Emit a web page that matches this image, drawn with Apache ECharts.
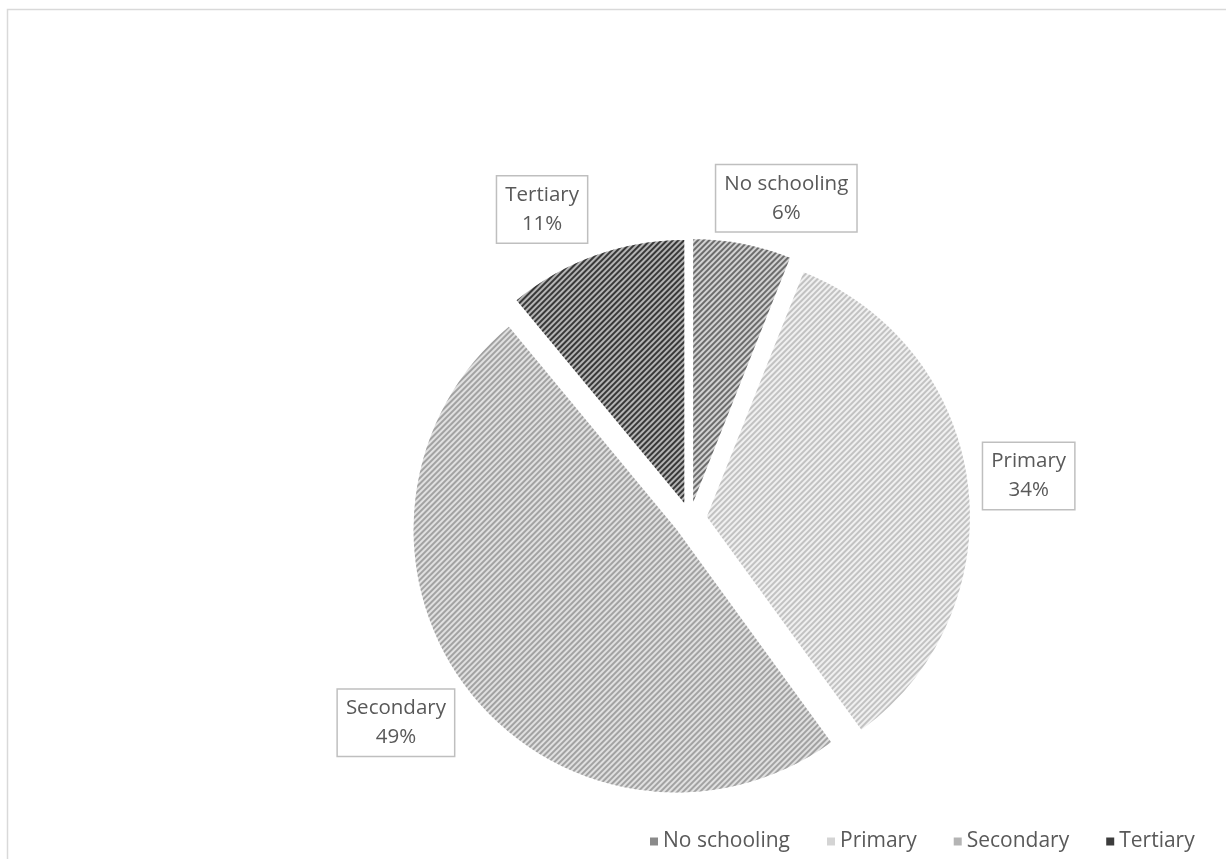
<!DOCTYPE html>
<html>
<head>
<meta charset="utf-8">
<script src="https://cdn.jsdelivr.net/npm/echarts@6/dist/echarts.min.js"></script>
<style>
html,body{margin:0;padding:0;background:#fff;}
#c{width:1226px;height:859px;}
</style>
</head>
<body>
<div id="c"></div>
<script>
// Data
const categories = ['No schooling', 'Primary', 'Secondary', 'Tertiary'];
const shares = [6, 34, 49, 11];

// Styling (not data)
const baseColors = ['#d2d2d2', '#f0f0f0', '#e0e0e0', '#b4b4b4'];
const stripeColors = ['#6c6c6c', '#c2c2c2', '#a2a2a2', '#383838'];
const legendColors = ['#8a8a8a', '#d4d4d4', '#b4b4b4', '#3c3c3c'];
// label nudges relative to ECharts' default outside placement
const labelShift = [[6, -31], [11, -6], [-26, 23], [-13, -32]];

const chart = echarts.init(document.getElementById('c'), null, {renderer: 'canvas'});
const FONT = '"Open Sans", sans-serif';

const data = categories.map((name, i) => ({
  name: name,
  value: shares[i],
  selected: true,
  itemStyle: {
    color: baseColors[i],
    decal: {
      symbol: 'rect',
      symbolSize: 1,
      dashArrayX: [1, 0],
      dashArrayY: [2, 2],
      rotation: -Math.PI / 4,
      color: stripeColors[i]
    }
  }
}));

chart.setOption({
  animation: false,
  backgroundColor: '#fff',
  graphic: [{
    type: 'rect',
    shape: {x: 7.5, y: 9.5, width: 1240, height: 880},
    style: {fill: 'none', stroke: '#d9d9d9', lineWidth: 1.5},
    silent: true
  }],
  legend: {
    data: categories.map((n, i) => ({name: n, itemStyle: {color: legendColors[i], decal: 'none'}})),
    left: 645,
    top: 826,
    icon: 'rect',
    itemWidth: 8,
    itemHeight: 8,
    itemGap: 37,
    selectedMode: false,
    textStyle: {fontFamily: FONT, fontSize: 21, color: '#595959'}
  },
  series: [{
    type: 'pie',
    center: [690, 519],
    radius: 263,
    startAngle: 90,
    clockwise: true,
    selectedMode: 'multiple',
    selectedOffset: 17,
    avoidLabelOverlap: false,
    emphasis: {disabled: true},
    select: {itemStyle: {borderWidth: 0}},
    label: {
      show: true,
      position: 'outside',
      formatter: p => p.name + '\n' + Math.round(p.percent) + '%',
      fontFamily: FONT,
      fontSize: 20.5,
      lineHeight: 29,
      color: '#595959',
      align: 'center',
      backgroundColor: '#fff',
      borderColor: '#bfbfbf',
      borderWidth: 1.5,
      padding: [5, 8, 3, 8]
    },
    labelLine: {show: false},
    labelLayout: p => ({
      dx: labelShift[p.dataIndex][0],
      dy: labelShift[p.dataIndex][1],
      align: 'center',
      verticalAlign: 'middle'
    }),
    data: data
  }]
});
</script>
</body>
</html>
